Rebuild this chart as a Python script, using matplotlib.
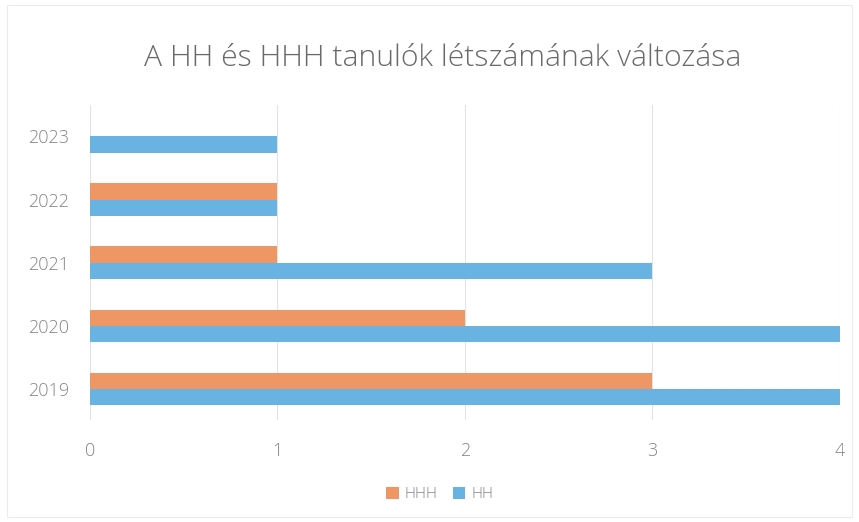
import numpy as np
import matplotlib as mpl
mpl.use('Agg')
import matplotlib.pyplot as plt
from matplotlib.patches import Rectangle

years = ['2019', '2020', '2021', '2022', '2023']
hhh = [3, 2, 1, 1, 0]
hh = [4, 4, 3, 1, 1]

col_hhh = '#EE9764'
col_hh = '#68B3E2'
txt = '#858585'

plt.rcParams['font.family'] = ['Open Sans', 'DejaVu Sans']
plt.rcParams['font.weight'] = 'light'

fig = plt.figure(figsize=(8.59, 5.22), dpi=100)
ax = fig.add_axes([0.1048, 0.195, 0.873, 0.604])

y = np.arange(len(years))
h = 0.255
ax.barh(y + h/2, hhh, height=h, color=col_hhh, label='HHH', zorder=3)
ax.barh(y - h/2, hh, height=h, color=col_hh, label='HH', zorder=3)

ax.set_xlim(0, 4)
ax.set_ylim(-0.5, len(years) - 0.5)
ax.set_xticks([0, 1, 2, 3, 4])
ax.set_yticks(y)
ax.set_yticklabels(years)
ax.grid(axis='x', color='#e3e3e3', linewidth=0.8, zorder=0)
for s in ax.spines.values():
    s.set_visible(False)
ax.tick_params(length=0, colors=txt, labelsize=13)
ax.tick_params(axis='x', pad=16)
ax.tick_params(axis='y', pad=15)

fig.text(0.515, 0.889, 'A HH és HHH tanulók létszámának változása',
         ha='center', va='center', fontsize=21.7, color='#6a6a6a', fontweight='light')

fig.legend(loc='center', bbox_to_anchor=(0.512, 0.052), ncol=2, frameon=False,
           fontsize=11, labelcolor=txt, handlelength=0.8, handleheight=0.8,
           columnspacing=1.0, handletextpad=0.4)

fig.patches.append(Rectangle((0.008, 0.01), 0.984, 0.98, transform=fig.transFigure,
                             fill=False, edgecolor='#ececec', linewidth=0.8))

plt.savefig('out.png', dpi=100)
plt.close()
